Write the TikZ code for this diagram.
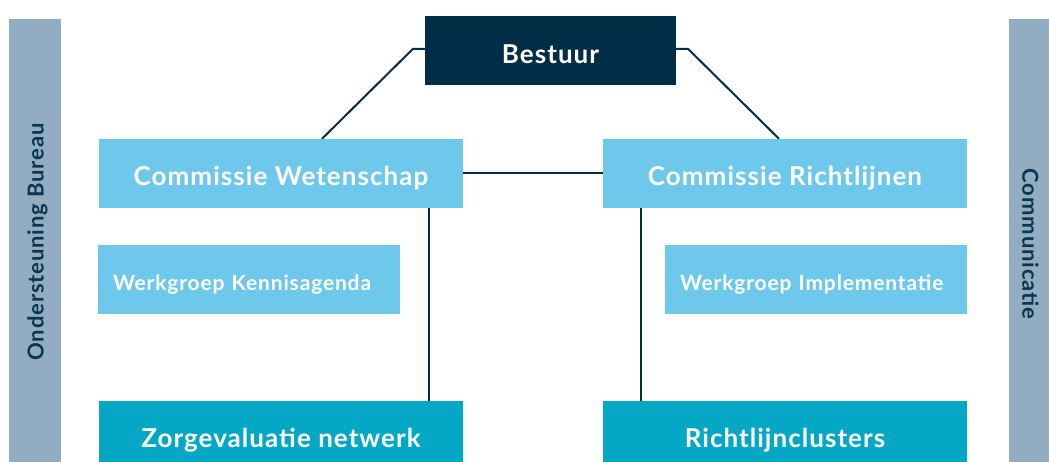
\documentclass[tikz,border=0pt]{standalone}
\usepackage{fontspec}
\setmainfont{Lato}
\newfontfamily\labfont[LetterSpace=4]{Lato}
\definecolor{navy}{HTML}{022D46}
\definecolor{lblue}{HTML}{6EC8EC}
\definecolor{teal}{HTML}{05A8C4}
\definecolor{barcol}{HTML}{92ADC2}
\definecolor{bartext}{HTML}{0B3550}
\begin{document}
\begin{tikzpicture}[x=1pt,y=1pt,
  box/.style={rectangle, inner sep=0pt, minimum height=69pt, text=white, font=\labfont\bfseries\fontsize{26}{30}\selectfont, text depth=0pt},
  topbox/.style={box, fill=navy, minimum width=251pt, text height=26.6pt},
  combox/.style={box, fill=lblue, minimum width=364pt, text height=24.6pt},
  wgbox/.style={box, fill=lblue, font=\labfont\bfseries\fontsize{21}{25}\selectfont, text width=272pt, inner xsep=15pt, align=left, text height=23pt},
  botbox/.style={box, fill=teal, minimum width=364pt, text height=24.6pt},
  bartxt/.style={inner sep=0pt, text=bartext, font=\labfont\bfseries\fontsize{22}{26}\selectfont},
  conn/.style={draw=navy, line width=2pt}]
\useasboundingbox (0,0) rectangle (1049,462);
\clip (0,0) rectangle (1049,462);
% side bars
\fill[barcol] (9,-20) rectangle (61,443);
\fill[barcol] (1009,-20) rectangle (1060,443);
\node[bartxt, rotate=90] (ob) at (37.5,220) {Ondersteuning Bureau};
\node[bartxt, rotate=-90] (cm) at (1030.5,218) {Communicatie};
% boxes
\node[topbox] (B) at (550.5,411.5) {Bestuur};
\node[combox] (CW) at (281,288.5) {Commissie Wetenschap};
\node[combox] (CR) at (785,288.5) {Commissie Richtlijnen};
\node[wgbox] (WK) at (249,182.5) {Werkgroep Kennisagenda};
\node[wgbox] (WI) at (816,182.5) {Werkgroep Implementatie};
\node[botbox] (ZN) at (281,26.5) {Zorgevaluatie netwerk};
\node[botbox] (RC) at (785,26.5) {Richtlijnclusters};
% connectors
\draw[conn] ([yshift=1.5pt]B.west) -- ++(-12,0) -- ([xshift=41pt]CW.north);
\draw[conn] ([yshift=1.5pt]B.east) -- ++(12,0) -- ([xshift=-6pt]CR.north);
\draw[conn] (CW.east) -- (CR.west);
\draw[conn] ([xshift=148pt]CW.south) -- ([xshift=148pt]ZN.north);
\draw[conn] ([xshift=-144pt]CR.south) -- ([xshift=-144pt]RC.north);
\end{tikzpicture}
\end{document}
